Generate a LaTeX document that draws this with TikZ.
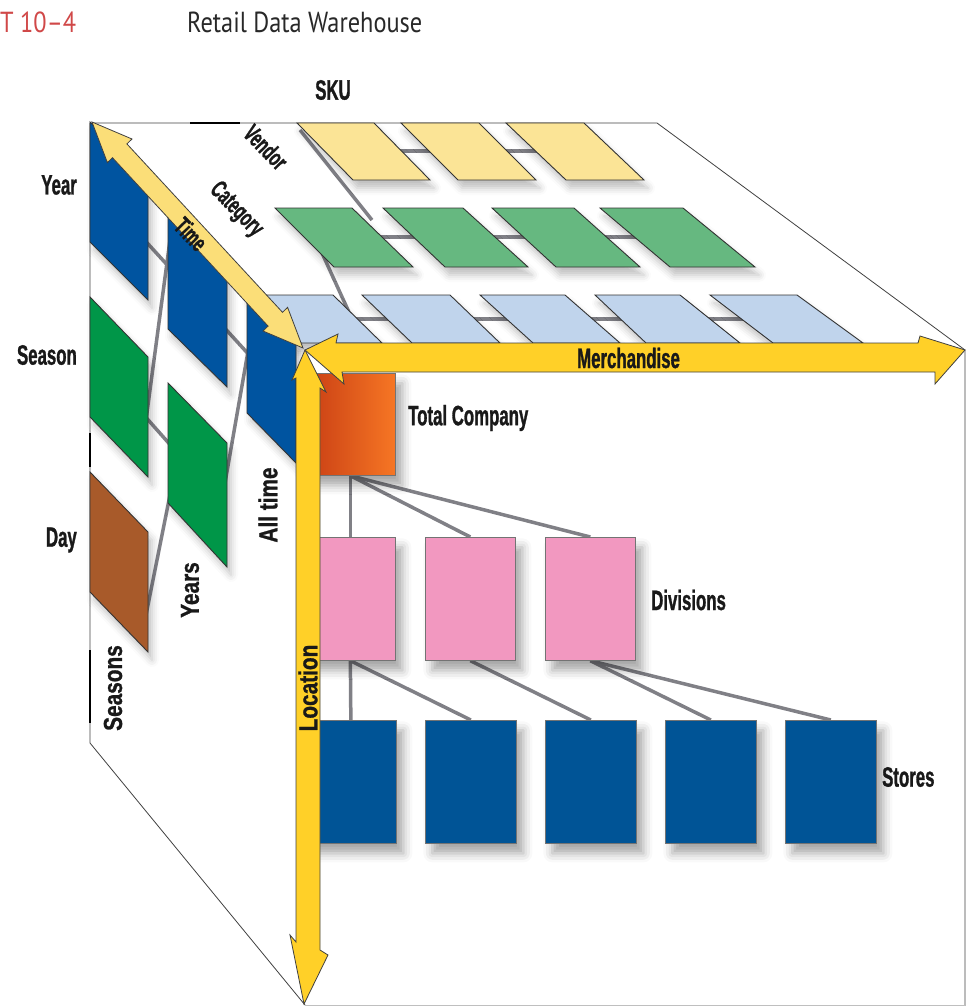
\documentclass[tikz,border=0pt]{standalone}
\usepackage{fontspec}
\setmainfont{Liberation Sans}
\newfontfamily\condA{Liberation Sans}[FakeStretch=0.6,FakeBold=1]
\newfontfamily\condB{Liberation Sans}[FakeStretch=0.8,FakeBold=1]
\newfontfamily\titlefont{PT Sans}[FakeStretch=0.84]
\usetikzlibrary{calc,shadows.blur}
\definecolor{arrowY}{RGB}{255,208,40}
\definecolor{arrowP}{RGB}{255,245,205}
\definecolor{arrowT}{RGB}{251,222,120}
\definecolor{boxYel}{RGB}{251,228,150}
\definecolor{boxGrn}{RGB}{102,184,128}
\definecolor{boxLbl}{RGB}{192,212,236}
\definecolor{lfBlue}{RGB}{0,84,160}
\definecolor{lfGreen}{RGB}{0,150,72}
\definecolor{lfBrown}{RGB}{168,90,42}
\definecolor{tcDark}{RGB}{200,62,20}
\definecolor{tcLight}{RGB}{246,118,36}
\definecolor{divPink}{RGB}{242,152,192}
\definecolor{storeBlue}{RGB}{0,84,150}
\definecolor{lineGray}{RGB}{128,128,134}
\definecolor{titleRed}{RGB}{208,72,72}
\definecolor{titleGray}{RGB}{40,40,40}
\pgfdeclarelayer{bg}
\pgfsetlayers{bg,main}
\begin{document}
\begin{tikzpicture}[x=1pt,y=-1pt,
  lbl/.style={font=\condA\bfseries\fontsize{28}{30}\selectfont,text=black!90,inner sep=0pt},
  vlbl/.style={font=\condB\bfseries\fontsize{26}{28}\selectfont,text=black!90,inner sep=0pt,rotate=90},
  slbl/.style={font=\condA\bfseries\fontsize{25}{27}\selectfont,text=black!90,inner sep=0pt,rotate=-46},
  cubeedge/.style={draw=black!75,line width=0.8pt},
  link/.style={draw=lineGray,line width=3.5pt},
  para/.style={draw=black!80,line width=0.9pt,blur shadow={shadow xshift=4pt,shadow yshift=-8pt,shadow blur radius=7pt,shadow opacity=25}},
  fbox/.style={draw=black!55,line width=0.7pt,anchor=north west,inner sep=0pt,minimum width=90pt,minimum height=123pt,blur shadow={shadow xshift=7pt,shadow yshift=-10pt,shadow blur radius=9pt,shadow opacity=35}},
  axisarrow/.style={draw=black!75,line width=0.8pt,line join=miter}
]
\useasboundingbox (0,0) rectangle (969,1006);

% ---- title ----
\node[anchor=base west,inner sep=0pt,font=\titlefont\fontsize{29}{31}\selectfont,text=titleRed] (exh) at (0,33) {T 10–4};
\node[anchor=base west,inner sep=0pt,font=\titlefont\fontsize{29}{31}\selectfont,text=titleGray] (ttl) at (187,33) {Retail Data Warehouse};

% ---- cube edges ----
\draw[cubeedge] (90,123) -- (657,123) -- (965,350) -- (965,1006);
\draw[cubeedge] (90,123) -- (90,743) -- (305,1005);
\draw[draw=black!25,line width=0.8pt] (305,1005) -- (965,1005);
\draw[black,line width=2pt] (190,123) -- (240,123);
\draw[black,line width=2pt] (90,433) -- (90,467);
\draw[black,line width=2pt] (90,650) -- (90,723);

% ---- top face: Vendor row ----
\draw[para,fill=boxYel] (297,123) -- (374,123) -- (430,180) -- (353,180) -- cycle;
\draw[para,fill=boxYel] (401,123) -- (479,123) -- (536,180) -- (458,180) -- cycle;
\draw[para,fill=boxYel] (506,123) -- (584,123) -- (644,180) -- (566,180) -- cycle;
% ---- Category row ----
\draw[para,fill=boxGrn] (275,208) -- (352,208) -- (413,267) -- (334,267) -- cycle;
\draw[para,fill=boxGrn] (383,208) -- (463,208) -- (528,267) -- (445,267) -- cycle;
\draw[para,fill=boxGrn] (492,208) -- (574,208) -- (640,267) -- (556,267) -- cycle;
\draw[para,fill=boxGrn] (600,208) -- (683,208) -- (755,267) -- (670,267) -- cycle;
% ---- SKU row ----
\draw[para,fill=boxLbl] (245,295) -- (333,295) -- (382,343) -- (294,343) -- cycle;
\draw[para,fill=boxLbl] (362,295) -- (450,295) -- (500,343) -- (412,343) -- cycle;
\draw[para,fill=boxLbl] (480,295) -- (565,295) -- (620,343) -- (533,343) -- cycle;
\draw[para,fill=boxLbl] (595,295) -- (680,295) -- (740,343) -- (646,343) -- cycle;
\draw[para,fill=boxLbl] (710,295) -- (797,295) -- (863,343) -- (773,343) -- cycle;

% ---- left face: time ----
\draw[para,fill=lfBlue]  (90,122) -- (148,182) -- (148,300) -- (90,242) -- cycle;
\draw[para,fill=lfGreen] (90,297) -- (148,357) -- (148,477) -- (90,417) -- cycle;
\draw[para,fill=lfBrown] (90,472) -- (148,532) -- (148,652) -- (90,592) -- cycle;
\draw[para,fill=lfBlue]  (168,210) -- (227,268) -- (227,387) -- (168,329) -- cycle;
\draw[para,fill=lfGreen] (168,383) -- (227,443) -- (227,567) -- (168,503) -- cycle;
\draw[para,fill=lfBlue]  (247,293) -- (296,343) -- (296,463) -- (247,413) -- cycle;

% ---- front face: location ----
\node[fbox,minimum height=102pt,left color=tcDark,right color=tcLight] (tc) at (305,373) {};
\node[fbox,fill=divPink] (d1) at (305,537) {};
\node[fbox,fill=divPink] (d2) at (425,537) {};
\node[fbox,fill=divPink] (d3) at (545,537) {};
\node[fbox,fill=storeBlue,minimum width=91pt] (s1) at (305,720) {};
\node[fbox,fill=storeBlue,minimum width=91pt] (s2) at (425,720) {};
\node[fbox,fill=storeBlue,minimum width=91pt] (s3) at (545,720) {};
\node[fbox,fill=storeBlue,minimum width=91pt] (s4) at (665,720) {};
\node[fbox,fill=storeBlue,minimum width=91pt] (s5) at (785,720) {};

% ---- connector end points on the faces ----
\coordinate (ry1) at (335,151); \coordinate (ry2) at (610,151);
\coordinate (rg1) at (310,237); \coordinate (rg2) at (715,237);
\coordinate (rb1) at (300,319); \coordinate (rb2) at (810,319);
\coordinate (vc1) at (300,130); \coordinate (vc2) at (372,220);
\coordinate (cs1) at (322,253); \coordinate (cs2) at (358,332);
\coordinate (lb1) at (119,212); \coordinate (lb3) at (272,380);
\coordinate (lg1) at (119,387); \coordinate (lg2) at (197,475);
\coordinate (h1a) at (145,620); \coordinate (h1b) at (172,485);
\coordinate (h2a) at (146,420); \coordinate (h2b) at (170,240);
\coordinate (h3a) at (222,500); \coordinate (h3b) at (250,340);

\begin{pgfonlayer}{bg}
  \draw[link] (ry1) -- (ry2);
  \draw[link] (rg1) -- (rg2);
  \draw[link] (rb1) -- (rb2);
  \draw[link] (vc1) -- (vc2);
  \draw[link] (cs1) -- (cs2);
  \draw[link] (lb1) -- (lb3);
  \draw[link] (lg1) -- (lg2);
  \draw[link] (h1a) -- (h1b);
  \draw[link] (h2a) -- (h2b);
  \draw[link] (h3a) -- (h3b);
  \draw[link] (tc.south) -- (d1.north);
  \draw[link] (tc.south) -- (d2.north);
  \draw[link] (tc.south) -- (d3.north);
  \draw[link] (d1.south) -- (s1.north);
  \draw[link] (d1.south) -- (s2.north);
  \draw[link] (d2.south) -- (s3.north);
  \draw[link] (d3.south) -- (s4.north);
  \draw[link] (d3.south) -- (s5.north);
\end{pgfonlayer}

% ---- axis arrows ----
\draw[axisarrow,fill=arrowT] (92,122) -- (132,139) -- (126.9,143.9) -- (282.5,312.3) -- (287.6,307.4) -- (303,348)
   -- (263,331) -- (268.1,326.1) -- (112.5,157.7) -- (107.4,162.6) -- cycle;
\draw[axisarrow,left color=arrowY,middle color=arrowP,right color=arrowY] (305,350) -- (338,334) -- (336,343) -- (918,343) -- (920,336) -- (965,350)
   -- (935,384) -- (935,372) -- (342,372) -- (344,384) -- cycle;
\draw[axisarrow,top color=arrowY,middle color=arrowP,bottom color=arrowY] (305,350) -- (326,392) -- (320,388) -- (320,950) -- (328,955) -- (304,1004)
   -- (290,935) -- (296,942) -- (296,378) -- (292,380) -- cycle;

% ---- labels ----
\node[lbl] (sku) at (333,90) {SKU};
\node[slbl] (vendor) at (266,147) {Vendor};
\node[slbl] (category) at (236,210) {Category};
\node[slbl] (time) at (191,234) {Time};
\node[lbl,anchor=west] (merch) at (577,358) {Merchandise};
\node[lbl,anchor=east] (year) at (77,185) {Year};
\node[lbl,anchor=east] (season) at (77,355) {Season};
\node[lbl,anchor=east] (day) at (77,540) {Day};
\node[vlbl] (seasons) at (113,688) {Seasons};
\node[vlbl] (years) at (190,590) {Years};
\node[vlbl] (alltime) at (268,505) {All time};
\node[vlbl] (location) at (308,688) {Location};
\node[lbl,anchor=west] (tclbl) at (408,418) {Total Company};
\node[lbl,anchor=west] (divlbl) at (651,600) {Divisions};
\node[lbl,anchor=west] (stlbl) at (882,777) {Stores};
\end{tikzpicture}
\end{document}
